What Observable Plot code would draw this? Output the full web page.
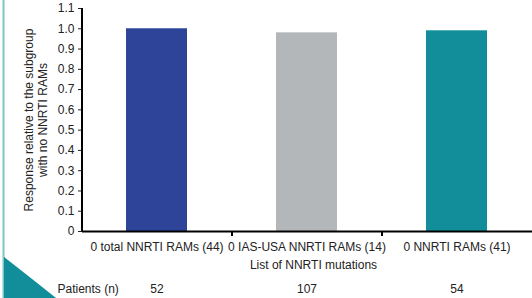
<!DOCTYPE html>
<html>
<head>
<meta charset="utf-8">
<script src="https://cdn.jsdelivr.net/npm/d3@7"></script>
<script src="https://cdn.jsdelivr.net/npm/@observablehq/plot@0.6"></script>
<style>
  html, body { margin: 0; padding: 0; background: #fff; }
  #wrap { position: relative; width: 532px; height: 298px; overflow: hidden; }
  #deco { position: absolute; left: 0; top: 0; pointer-events: none; }
</style>
</head>
<body>
<div id="wrap"></div>
<script>
const categories = ["0 total NNRTI RAMs (44)", "0 IAS-USA NNRTI RAMs (14)", "0 NNRTI RAMs (41)"];
const responses = [1.0, 0.98, 0.99];
const patients = [52, 107, 54];
const barColors = ["#2d4499", "#b4b7b9", "#118e9a"];
const yTicks = [0, 0.1, 0.2, 0.3, 0.4, 0.5, 0.6, 0.7, 0.8, 0.9, 1.0, 1.1];
const yTitle = ["Response relative to the subgroup", "with no NNRTI RAMs"];
const xTitle = "List of NNRTI mutations";
const patientsLabel = "Patients (n)";

const data = categories.map((c, i) => ({cat: c, value: responses[i], n: patients[i]}));

const W = 532, H = 298, mL = 82, mR = 0, mT = 8, mB = 67;
const step = (W - mL - mR) / categories.length;
const textColor = "#222";

const chart = Plot.plot({
  width: W,
  height: H,
  marginLeft: mL,
  marginRight: mR,
  marginTop: mT,
  marginBottom: mB,
  style: {fontFamily: "'Liberation Sans', Arial, sans-serif", fontSize: "12px", color: textColor, background: "transparent", overflow: "visible"},
  x: {domain: categories, paddingInner: 0.593, paddingOuter: 0.2965, tickSize: 0, tickPadding: 11, label: null},
  y: {domain: [0, 1.1], ticks: yTicks, tickFormat: d => d === 0 ? "0" : d.toFixed(1), tickSize: 4, tickPadding: 4, label: null},
  color: {domain: categories, range: barColors},
  marks: [
    Plot.barY(data, {x: "cat", y: "value", fill: "cat"}),
    Plot.ruleY([0], {stroke: "#000", strokeWidth: 2}),
    Plot.ruleX([categories[0]], {y1: 0, y2: 1.1, dx: -step / 2, stroke: "#000", strokeWidth: 2}),
    Plot.ruleX(categories.slice(1), {y1: 0, y2: 0, insetBottom: -5, dx: -step / 2, stroke: "#000", strokeWidth: 2}),
    Plot.text([yTitle.join("\n")], {frameAnchor: "left", textAnchor: "middle", lineAnchor: "middle", rotate: -90, dx: -47, lineHeight: 1.17, fill: textColor}),
    Plot.text([xTitle], {frameAnchor: "bottom", textAnchor: "middle", dx: 6, dy: 37, fill: textColor}),
    Plot.text([patientsLabel], {frameAnchor: "bottom-left", textAnchor: "start", dx: -25, dy: 61, fill: textColor}),
    Plot.text(data, {x: "cat", text: "n", frameAnchor: "bottom", dy: 61, fill: textColor})
  ]
});

const wrap = document.getElementById("wrap");
wrap.appendChild(chart);

// decorative slide border elements
const deco = d3.select(wrap).append("svg")
  .attr("id", "deco").attr("width", W).attr("height", H);
deco.append("line").attr("x1", 3.5).attr("x2", 3.5).attr("y1", 0).attr("y2", H)
  .attr("stroke", "#7fc4c7").attr("stroke-width", 2);
deco.append("path").attr("d", "M4,257 Q26,274 56,298 L4,298 Z").attr("fill", "#118e9a");
</script>
</body>
</html>
